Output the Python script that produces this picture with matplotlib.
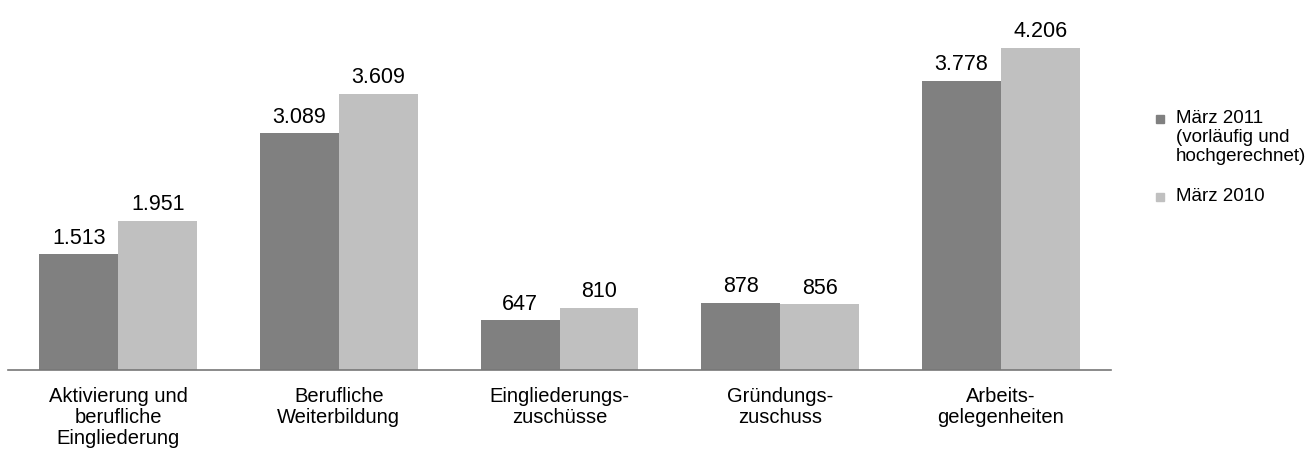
import numpy as np
import matplotlib.pyplot as plt
from matplotlib.patches import Rectangle

plt.rcParams['font.family'] = ['Liberation Sans', 'DejaVu Sans']

categories = ['Aktivierung und\nberufliche\nEingliederung', 'Berufliche\nWeiterbildung',
              'Eingliederungs-\nzuschüsse', 'Gründungs-\nzuschuss', 'Arbeits-\ngelegenheiten']
values_2011 = [1513, 3089, 647, 878, 3778]
values_2010 = [1951, 3609, 810, 856, 4206]
series_names = ['März 2011\n(vorläufig und\nhochgerechnet)', 'März 2010']
colors = ['#808080', '#c0c0c0']

def fmt(v):
    return f'{v:,}'.replace(',', '.')

W, H = 1314, 453
fig = plt.figure(figsize=(W / 100, H / 100), dpi=100)
ax = fig.add_axes([8 / W, (H - 370) / H, 1103 / W, 370 / H])

x = np.arange(len(categories))
w = 0.358
b1 = ax.bar(x - w / 2, values_2011, w, color=colors[0])
b2 = ax.bar(x + w / 2, values_2010, w, color=colors[1])

for bars, vals in ((b1, values_2011), (b2, values_2010)):
    for rect, v in zip(bars, vals):
        ax.annotate(fmt(v), (rect.get_x() + rect.get_width() / 2, v),
                    xytext=(0, 4), textcoords='offset points',
                    ha='center', va='bottom', fontsize=15.5)

ax.set_xlim(-0.5, 4.5)
ax.set_ylim(0, 4830)
ax.set_xticks(x)
ax.set_xticklabels(categories, fontsize=14.5, linespacing=1.15)
ax.tick_params(axis='x', length=0, pad=12)
ax.set_yticks([])
for s in ['top', 'right', 'left']:
    ax.spines[s].set_visible(False)
ax.spines['bottom'].set_color('#777777')
ax.spines['bottom'].set_linewidth(1.2)

# legend drawn by hand so the square sits on the first text line
legend_y = [119, 197]
for name, c, yy in zip(series_names, colors, legend_y):
    fig.patches.append(Rectangle((1156 / W, 1 - (yy + 4) / H), 8 / W, 8 / H,
                                 transform=fig.transFigure, color=c))
    fig.text(1176 / W, 1 - (yy - 9) / H, name, fontsize=13.5,
             ha='left', va='top', linespacing=1.15)

fig.savefig('out.png', dpi=100)
